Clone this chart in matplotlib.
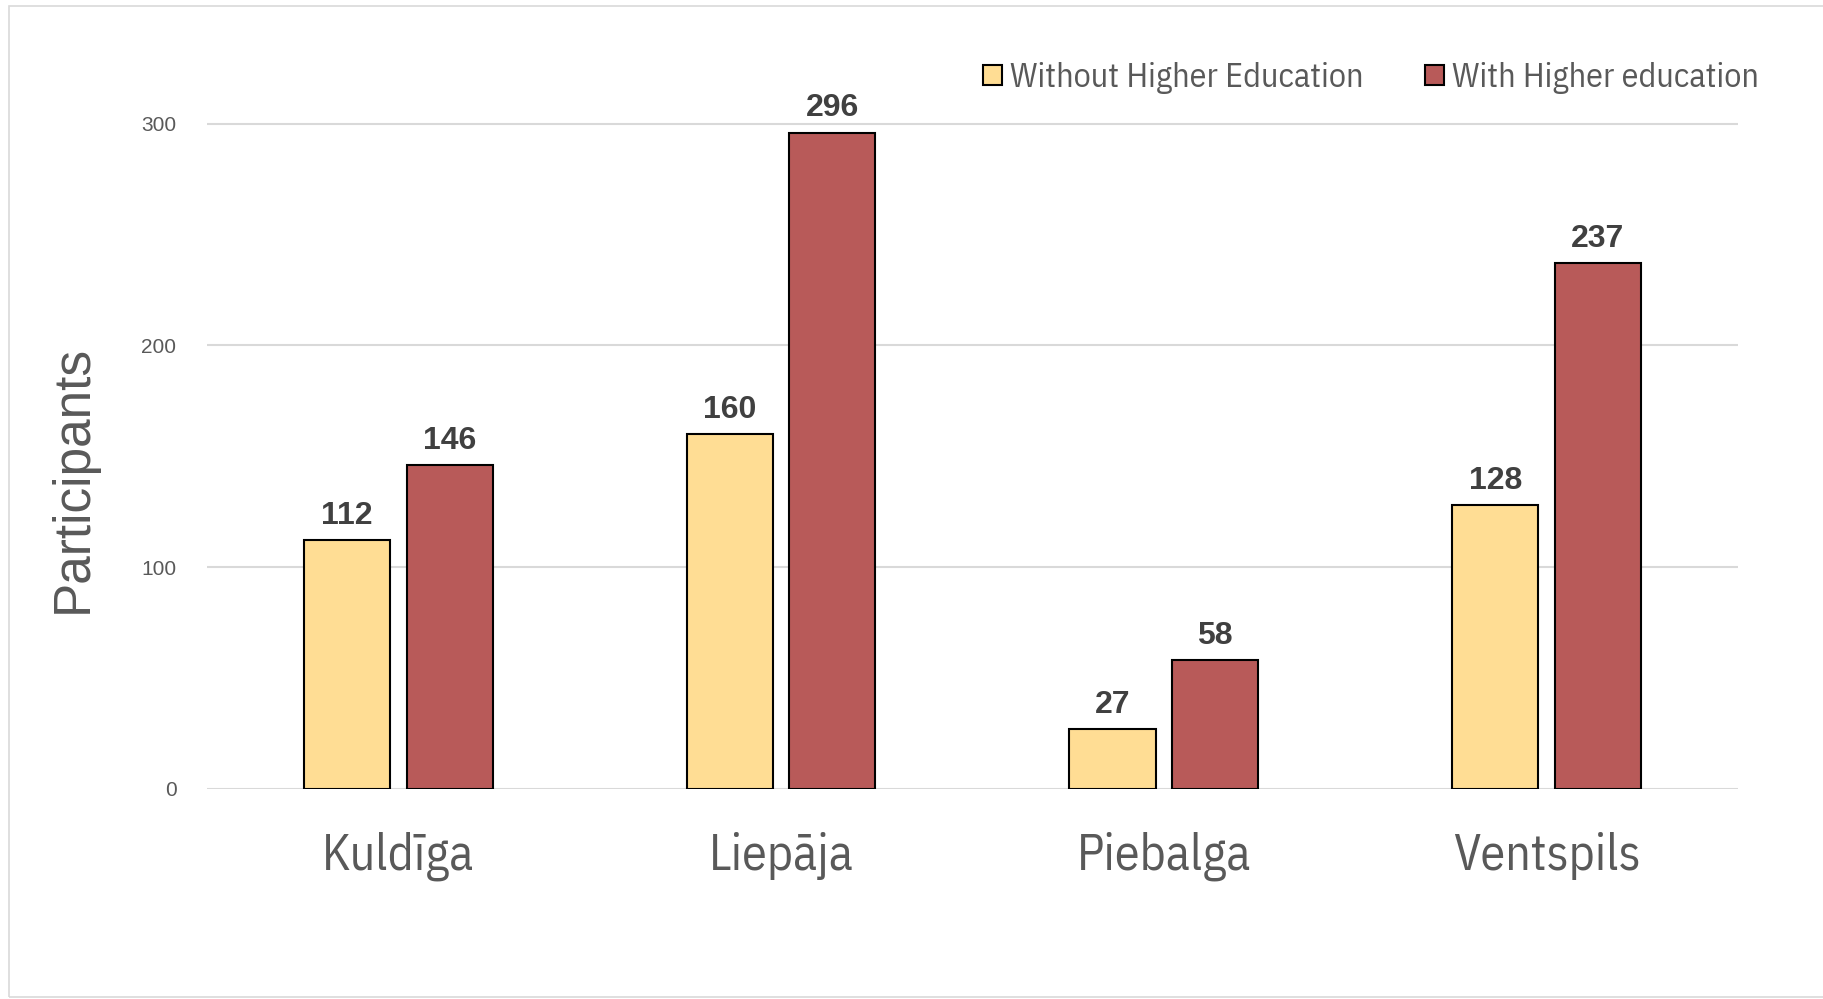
import matplotlib
matplotlib.use("Agg")
import matplotlib.pyplot as plt
import numpy as np
from matplotlib.patches import Rectangle

categories = ["Kuldīga", "Liepāja", "Piebalga", "Ventspils"]
without_he = [112, 160, 27, 128]
with_he = [146, 296, 58, 237]
series_names = ["Without Higher Education", "With Higher education"]
yticks = [0, 100, 200, 300]

c_yellow = "#FFDD94"
c_red = "#B85A59"
txt_gray = "#595959"
narrow = ["IBM Plex Sans Condensed", "DejaVu Sans"]

fig = plt.figure(figsize=(18.24, 9.99), dpi=100)
ax = fig.add_axes([0.1135, 0.2105, 0.8393, 0.7767])

x = np.arange(len(categories))
w = 0.225
off = 0.134
b1 = ax.bar(x - off, without_he, w, color=c_yellow, edgecolor="black", linewidth=1.5,
            label=series_names[0], zorder=3)
b2 = ax.bar(x + off, with_he, w, color=c_red, edgecolor="black", linewidth=1.5,
            label=series_names[1], zorder=3)

for bars, vals in ((b1, without_he), (b2, with_he)):
    for r, v in zip(bars, vals):
        ax.annotate(str(v), (r.get_x() + r.get_width() / 2, v), xytext=(0, 6.5),
                    textcoords="offset points", ha="center", va="bottom",
                    fontsize=23, fontweight="bold", color="#404040",
                    family="Liberation Sans")

ax.set_xlim(-0.5, 3.5)
ax.set_ylim(0, 350)
ax.set_yticks(yticks)
ax.set_yticklabels([str(t) for t in yticks], fontsize=15, color=txt_gray,
                   family="Liberation Sans")
ax.set_xticks(x)
ax.set_xticklabels(categories, fontsize=36, color=txt_gray, family=narrow)
ax.tick_params(axis="both", length=0)
ax.tick_params(axis="x", pad=31)
ax.tick_params(axis="y", pad=22)
ax.grid(axis="y", color="#D9D9D9", linewidth=1.5, zorder=0)
for s in ax.spines.values():
    s.set_visible(False)

fig.text(0.040, 0.521, "Participants", rotation=90, ha="center", va="center",
         fontsize=37, color=txt_gray, family="Liberation Sans")

leg = fig.legend(handles=[b1, b2], labels=series_names, loc="center right",
                 bbox_to_anchor=(0.9645, 0.922), ncol=2, frameon=False,
                 prop={"family": narrow, "size": 24.5}, labelcolor=txt_gray,
                 handlelength=0.55, handleheight=0.55, handletextpad=0.25,
                 columnspacing=1.8, borderaxespad=0, borderpad=0)

fig.patches.append(Rectangle((8 / 1568, 2 / 860), 1.2, 853 / 860, transform=fig.transFigure,
                             fill=False, edgecolor="#D9D9D9", linewidth=1.2))

fig.savefig("out.png", dpi=100)
